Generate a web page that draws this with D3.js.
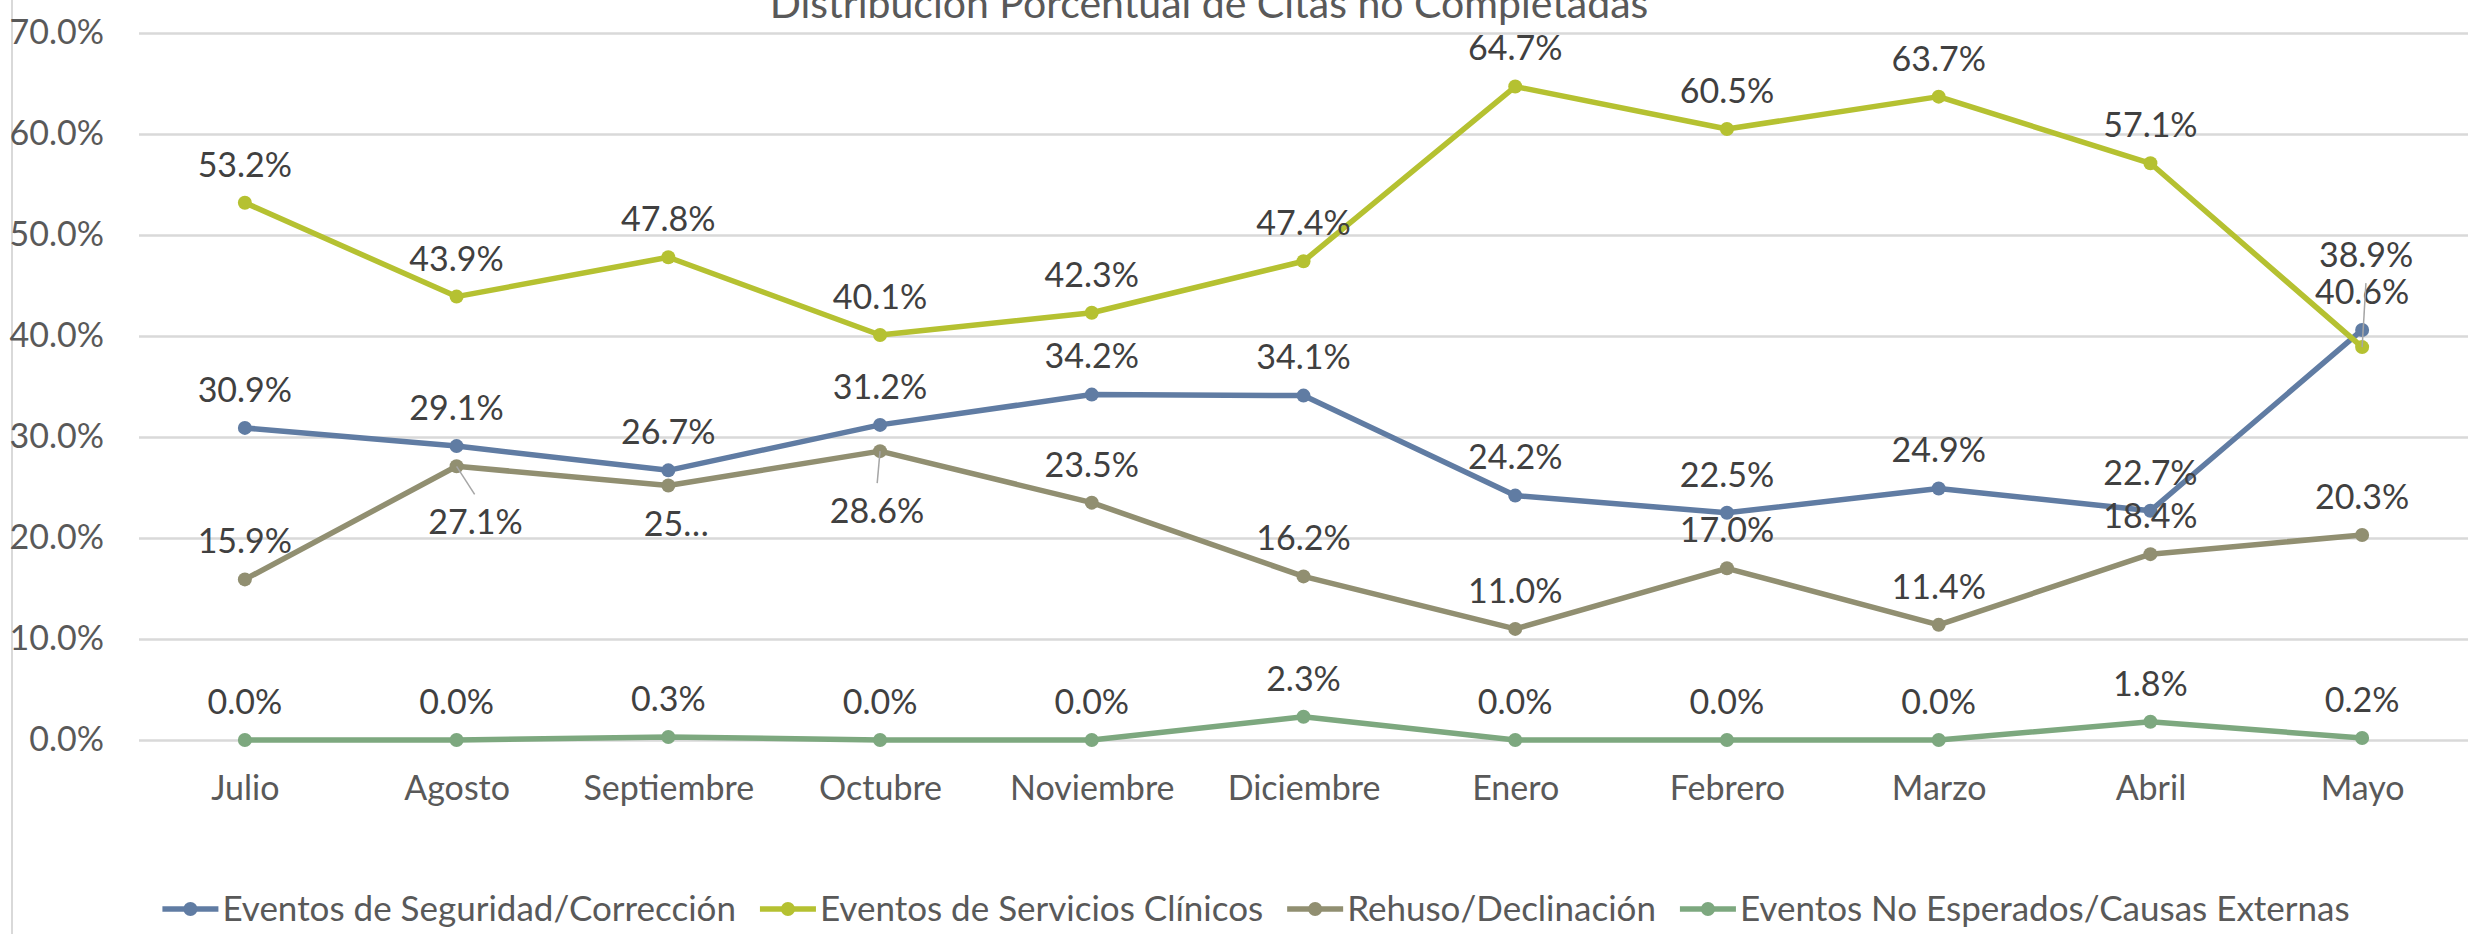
<!DOCTYPE html>
<html>
<head>
<meta charset="utf-8">
<script src="https://cdn.jsdelivr.net/npm/d3@7"></script>
<style>
  body { margin: 0; background: #fff; }
  svg text { font-family: Lato, "Open Sans", sans-serif; }
</style>
</head>
<body>
<div id="chart"></div>
<script>
var width = 2483,
    height = 934;

var months = ["Julio", "Agosto", "Septiembre", "Octubre", "Noviembre", "Diciembre",
              "Enero", "Febrero", "Marzo", "Abril", "Mayo"];
var seriesNames = ["Eventos de Seguridad/Corrección", "Eventos de Servicios Clínicos",
                   "Rehuso/Declinación", "Eventos No Esperados/Causas Externas"];

var seguridad  = [0.309, 0.291, 0.267, 0.312, 0.342, 0.341, 0.242, 0.225, 0.249, 0.227, 0.406];
var servicios  = [0.532, 0.439, 0.478, 0.401, 0.423, 0.474, 0.647, 0.605, 0.637, 0.571, 0.389];
var rehuso     = [0.159, 0.271, 0.252, 0.286, 0.235, 0.162, 0.110, 0.170, 0.114, 0.184, 0.203];
var noEsperado = [0.000, 0.000, 0.003, 0.000, 0.000, 0.023, 0.000, 0.000, 0.000, 0.018, 0.002];

var yTicks = [0, 0.1, 0.2, 0.3, 0.4, 0.5, 0.6, 0.7];
var colors = ["#607ca3", "#b5c131", "#918f71", "#7da87f"];

var series = [seguridad, servicios, rehuso, noEsperado].map(function(vals, i) {
  return { name: seriesNames[i], color: colors[i], values: vals };
});

// where a data label sits, relative to its point: [dx, dy of text centre, leader line]
var labelNudge = {
  "1-10": [4, -92, true],
  "2-1": [19, 56, true],
  "2-2": [8, 39, false],
  "2-3": [-3, 60, true]
};
var labelText = { "2-2": "25…" };   // label cut short in the original

var fmt = d3.format(".1%");

var svg = d3.select("#chart").append("svg")
    .attr("width", width)
    .attr("height", height);

svg.append("rect")
    .attr("width", width)
    .attr("height", height)
    .attr("fill", "#fff");

// chart area border (only left side is in frame)
svg.append("line")
    .attr("x1", 12).attr("x2", 12)
    .attr("y1", 0).attr("y2", height)
    .attr("stroke", "#d9d9d9")
    .attr("stroke-width", 2);

svg.append("text")
    .attr("x", 1209)
    .attr("y", 18)
    .attr("text-anchor", "middle")
    .attr("font-size", 41)
    .attr("fill", "#595959")
    .text("Distribución Porcentual de Citas no Completadas");

var x = d3.scalePoint()
    .domain(months)
    .range([139, 2468])
    .padding(0.5);

var y = d3.scaleLinear()
    .domain([0, 0.7])
    .range([740, 33]);

// gridlines + y labels
var yAxis = svg.append("g")
    .attr("transform", "translate(139,0)")
    .call(d3.axisLeft(y).tickValues(yTicks).tickFormat(fmt).tickSize(-(2468 - 139)).tickPadding(35));
yAxis.select(".domain").remove();
yAxis.selectAll(".tick line").attr("stroke", "#d9d9d9").attr("stroke-width", 2.5);
yAxis.selectAll(".tick text")
    .attr("font-size", 34)
    .attr("fill", "#595959");

var xAxis = svg.append("g")
    .attr("transform", "translate(0,740)")
    .call(d3.axisBottom(x).tickSize(0).tickPadding(36));
xAxis.select(".domain").remove();
xAxis.selectAll(".tick text")
    .attr("font-size", 34)
    .attr("fill", "#595959");

var line = d3.line()
    .x(function(d, i) { return x(months[i]); })
    .y(function(d) { return y(d); });

var lines = svg.append("g");
series.forEach(function(s) {
  lines.append("path")
      .attr("d", line(s.values))
      .attr("fill", "none")
      .attr("stroke", s.color)
      .attr("stroke-width", 5.5)
      .attr("stroke-linejoin", "round");
  lines.selectAll(null)
      .data(s.values).enter()
      .append("circle")
      .attr("cx", function(d, i) { return x(months[i]); })
      .attr("cy", function(d) { return y(d); })
      .attr("r", 7)
      .attr("fill", s.color);
});

// data labels
var labels = svg.append("g");
series.forEach(function(s, si) {
  s.values.forEach(function(v, i) {
    var key = si + "-" + i;
    var nudge = labelNudge[key] || [0, -38, false];
    var px = x(months[i]), py = y(v);
    var cx = px + nudge[0], cy = py + nudge[1];
    if (nudge[2]) {
      var ey = cy + (nudge[1] < 0 ? 28 : -28);
      labels.append("line")
          .attr("x1", px).attr("y1", py)
          .attr("x2", px + (cx - px) * 0.95).attr("y2", ey)
          .attr("stroke", "#a6a6a6")
          .attr("stroke-width", 1.5);
    }
    labels.append("text")
        .attr("x", cx)
        .attr("y", cy)
        .attr("dy", "0.35em")
        .attr("text-anchor", "middle")
        .attr("font-size", 34)
        .attr("fill", "#404040")
        .text(labelText[key] || fmt(v));
  });
});

// legend
var legend = svg.append("g").attr("transform", "translate(0,909)");
var lx = 0;
series.forEach(function(s) {
  var g = legend.append("g").attr("transform", "translate(" + lx + ",0)");
  g.append("line")
      .attr("x1", 0).attr("x2", 56)
      .attr("stroke", s.color)
      .attr("stroke-width", 5.5);
  g.append("circle")
      .attr("cx", 28).attr("r", 7)
      .attr("fill", s.color);
  var t = g.append("text")
      .attr("x", 60)
      .attr("dy", "0.35em")
      .attr("font-size", 35)
      .attr("fill", "#595959")
      .text(s.name);
  lx += 60 + t.node().getComputedTextLength() + 24;
});
var legendWidth = lx - 24;
legend.attr("transform", "translate(" + (1256 - legendWidth / 2) + ",909)");
</script>
</body>
</html>
